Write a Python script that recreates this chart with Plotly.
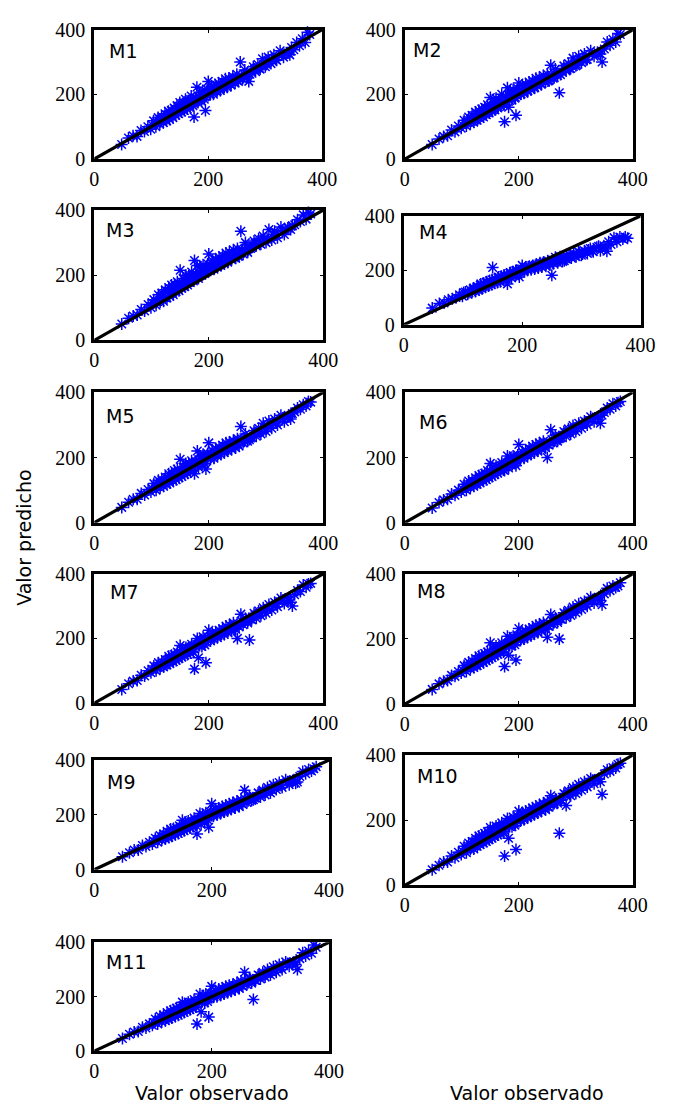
import plotly.graph_objects as go

# Observed values (shared by every model)
observed = [
    48, 60, 68, 75, 82, 88, 94, 99, 104, 108,
    112, 115, 118, 121, 124, 127, 130, 132, 135, 138,
    140, 143, 145, 148, 150, 153, 155, 158, 160, 163,
    165, 168, 170, 173, 175, 177, 180, 182, 185, 188,
    190, 193, 195, 198, 200, 203, 206, 209, 212, 215,
    218, 221, 224, 227, 230, 233, 236, 240, 243, 247,
    250, 253, 256, 260, 264, 268, 271, 275, 279, 283,
    287, 291, 295, 300, 305, 310, 315, 320, 326, 332,
    338, 343, 346, 350, 355, 360, 365, 370, 374, 378,
    101, 110, 117, 123, 129, 134, 139, 144, 149, 154,
    159, 164, 169, 174, 179, 184, 189, 194, 199, 204,
    210, 216, 222, 228, 234, 239, 245, 251, 258, 262,
    266, 273, 281, 289, 297, 302, 312, 318, 329, 340,
]

# Predicted values per model
pred_m1 = [
    45, 65, 72, 70, 88, 85, 100, 92, 118, 100,
    128, 108, 130, 112, 140, 118, 148, 122, 150, 128,
    158, 135, 165, 140, 175, 145, 172, 150, 185, 155,
    180, 162, 195, 165, 130, 190, 222, 175, 205, 180,
    212, 185, 150, 215, 240, 198, 225, 200, 230, 208,
    235, 212, 240, 218, 248, 222, 250, 228, 255, 235,
    262, 240, 300, 248, 275, 255, 240, 268, 285, 270,
    292, 278, 310, 285, 315, 295, 322, 305, 335, 315,
    328, 322, 345, 338, 360, 350, 372, 360, 392, 385,
    106, 112, 124, 122, 136, 134, 146, 145, 158, 154,
    168, 163, 178, 172, 188, 182, 196, 192, 206, 202,
    214, 212, 226, 222, 236, 232, 246, 242, 258, 252,
    264, 262, 278, 280, 292, 292, 306, 308, 322, 328,
]
pred_m2 = [
    45, 62, 70, 72, 90, 84, 102, 95, 120, 102,
    130, 110, 135, 114, 145, 120, 150, 125, 155, 130,
    160, 137, 168, 142, 190, 148, 175, 152, 188, 158,
    182, 165, 200, 168, 115, 192, 220, 160, 210, 182,
    215, 188, 135, 218, 235, 200, 228, 203, 232, 210,
    238, 214, 242, 220, 250, 225, 252, 232, 258, 238,
    262, 242, 290, 250, 278, 258, 205, 270, 288, 272,
    295, 280, 312, 288, 318, 298, 325, 308, 335, 318,
    330, 325, 300, 340, 362, 352, 370, 362, 388, 385,
    106, 113, 125, 121, 138, 133, 148, 144, 160, 153,
    170, 162, 180, 171, 190, 181, 198, 191, 208, 201,
    216, 211, 228, 221, 238, 231, 248, 241, 260, 251,
    266, 261, 280, 279, 294, 291, 308, 307, 324, 327,
]
pred_m3 = [
    50, 68, 75, 78, 95, 90, 110, 100, 125, 108,
    140, 118, 145, 120, 155, 130, 162, 135, 170, 140,
    172, 150, 180, 152, 215, 160, 190, 165, 200, 170,
    198, 178, 210, 182, 245, 205, 230, 190, 225, 200,
    232, 205, 215, 235, 265, 215, 245, 218, 250, 225,
    255, 230, 260, 235, 268, 240, 272, 248, 278, 252,
    282, 258, 335, 265, 300, 270, 285, 285, 305, 290,
    312, 295, 320, 300, 340, 308, 335, 315, 348, 325,
    345, 340, 352, 355, 370, 365, 385, 372, 392, 388,
    115, 120, 135, 132, 150, 145, 160, 158, 172, 168,
    182, 178, 192, 188, 202, 198, 212, 210, 222, 220,
    232, 230, 245, 240, 255, 250, 265, 258, 278, 272,
    285, 282, 298, 298, 312, 310, 325, 325, 338, 345,
]
pred_m4 = [
    61, 78, 80, 92, 95, 100, 110, 105, 120, 112,
    128, 118, 135, 122, 140, 128, 150, 132, 152, 140,
    158, 142, 162, 148, 210, 152, 168, 155, 175, 158,
    178, 165, 182, 168, 150, 180, 192, 172, 195, 182,
    200, 185, 175, 198, 218, 195, 212, 200, 215, 202,
    218, 205, 222, 208, 228, 212, 230, 215, 235, 220,
    182, 225, 248, 228, 250, 232, 235, 242, 258, 245,
    262, 250, 268, 255, 272, 262, 280, 268, 285, 272,
    290, 270, 305, 295, 320, 305, 322, 315, 322, 318,
    118, 118, 132, 130, 145, 140, 155, 150, 165, 160,
    172, 168, 182, 178, 190, 185, 198, 195, 205, 200,
    212, 208, 218, 215, 225, 220, 232, 228, 240, 235,
    248, 242, 255, 252, 265, 260, 275, 272, 288, 282,
]
pred_m5 = [
    47, 63, 72, 72, 90, 85, 102, 94, 120, 100,
    130, 108, 132, 112, 140, 118, 150, 122, 152, 128,
    160, 132, 165, 138, 195, 142, 170, 148, 182, 152,
    180, 158, 190, 162, 150, 188, 220, 170, 205, 178,
    210, 182, 165, 212, 245, 195, 222, 198, 228, 205,
    232, 210, 238, 215, 245, 220, 248, 225, 252, 230,
    258, 235, 295, 245, 272, 250, 255, 262, 282, 265,
    290, 272, 305, 280, 312, 290, 318, 300, 330, 310,
    325, 318, 335, 340, 352, 348, 362, 358, 372, 370,
    105, 111, 123, 121, 135, 133, 145, 143, 157, 153,
    167, 162, 177, 171, 187, 181, 195, 191, 205, 201,
    213, 210, 225, 221, 235, 230, 245, 240, 257, 250,
    263, 260, 277, 278, 291, 290, 305, 306, 321, 326,
]
pred_m6 = [
    45, 62, 70, 72, 88, 84, 100, 94, 118, 100,
    128, 108, 130, 112, 138, 118, 145, 122, 148, 128,
    152, 132, 160, 138, 182, 142, 165, 148, 175, 152,
    172, 158, 185, 162, 160, 180, 205, 168, 198, 178,
    205, 182, 175, 208, 240, 195, 218, 198, 222, 205,
    228, 210, 235, 215, 240, 220, 245, 225, 250, 230,
    200, 238, 285, 245, 268, 250, 258, 262, 280, 265,
    288, 272, 298, 280, 305, 290, 312, 300, 325, 310,
    322, 305, 330, 338, 352, 348, 365, 358, 368, 372,
    104, 110, 121, 120, 133, 132, 143, 142, 155, 152,
    164, 161, 175, 170, 184, 180, 193, 190, 202, 200,
    211, 209, 223, 220, 233, 230, 243, 240, 255, 250,
    261, 260, 276, 278, 290, 290, 304, 306, 320, 326,
]
pred_m7 = [
    42, 60, 68, 70, 86, 84, 100, 94, 115, 100,
    125, 108, 128, 112, 135, 118, 145, 122, 148, 128,
    150, 132, 158, 138, 178, 142, 165, 148, 172, 150,
    170, 155, 182, 158, 105, 178, 200, 140, 195, 175,
    205, 180, 125, 205, 225, 192, 215, 198, 220, 202,
    225, 208, 230, 212, 238, 218, 242, 222, 248, 228,
    200, 235, 275, 242, 262, 248, 195, 258, 278, 262,
    285, 270, 295, 278, 305, 288, 312, 298, 325, 308,
    318, 312, 300, 335, 348, 345, 365, 358, 368, 370,
    104, 110, 121, 119, 133, 131, 142, 141, 153, 150,
    163, 160, 173, 168, 182, 178, 191, 188, 200, 198,
    209, 208, 220, 219, 230, 229, 240, 240, 252, 251,
    258, 260, 272, 278, 286, 290, 300, 306, 318, 326,
]
pred_m8 = [
    45, 62, 70, 72, 88, 85, 100, 95, 118, 100,
    128, 108, 132, 112, 140, 118, 148, 122, 150, 128,
    155, 132, 160, 138, 188, 142, 168, 148, 178, 152,
    175, 158, 188, 160, 115, 182, 208, 150, 200, 178,
    208, 182, 135, 210, 232, 195, 220, 200, 225, 205,
    230, 210, 235, 215, 242, 220, 245, 225, 250, 230,
    205, 238, 275, 245, 265, 250, 200, 260, 280, 265,
    288, 272, 298, 280, 308, 290, 315, 300, 328, 310,
    322, 318, 305, 338, 355, 348, 362, 358, 362, 372,
    105, 111, 122, 120, 134, 132, 144, 142, 156, 152,
    166, 161, 176, 170, 185, 180, 194, 190, 204, 200,
    212, 210, 224, 220, 234, 230, 244, 240, 256, 250,
    262, 260, 276, 278, 290, 290, 304, 306, 320, 328,
]
pred_m9 = [
    47, 62, 72, 72, 88, 85, 100, 94, 115, 100,
    125, 108, 130, 112, 140, 118, 148, 122, 150, 128,
    152, 132, 160, 138, 180, 142, 168, 148, 178, 152,
    175, 158, 188, 162, 130, 182, 205, 165, 200, 178,
    208, 182, 155, 210, 240, 195, 222, 200, 225, 205,
    230, 210, 235, 215, 240, 220, 245, 225, 250, 230,
    255, 238, 290, 245, 268, 252, 255, 262, 280, 265,
    290, 272, 300, 280, 310, 292, 318, 300, 328, 310,
    325, 315, 320, 340, 358, 350, 365, 360, 368, 375,
    105, 111, 122, 121, 134, 133, 144, 143, 155, 153,
    165, 162, 175, 171, 185, 181, 194, 191, 203, 201,
    212, 210, 224, 221, 234, 231, 244, 241, 256, 251,
    262, 261, 277, 279, 291, 291, 305, 307, 321, 328,
]
pred_m10 = [
    48, 62, 72, 72, 90, 85, 102, 95, 120, 100,
    130, 110, 135, 112, 145, 120, 152, 125, 155, 130,
    160, 135, 165, 140, 178, 145, 172, 150, 182, 155,
    180, 160, 192, 165, 90, 185, 205, 145, 200, 180,
    210, 185, 110, 212, 228, 198, 222, 202, 228, 208,
    232, 212, 238, 218, 242, 222, 248, 228, 252, 232,
    258, 240, 275, 248, 265, 252, 160, 262, 282, 245,
    290, 275, 300, 282, 310, 292, 318, 302, 328, 312,
    325, 318, 280, 342, 355, 350, 362, 360, 372, 375,
    106, 112, 124, 121, 137, 133, 147, 143, 159, 153,
    169, 162, 179, 171, 189, 181, 197, 191, 207, 201,
    215, 211, 227, 221, 237, 231, 247, 241, 258, 251,
    264, 261, 279, 279, 292, 291, 306, 307, 323, 328,
]
pred_m11 = [
    46, 62, 70, 72, 88, 85, 100, 95, 118, 100,
    128, 108, 132, 112, 142, 118, 148, 122, 152, 128,
    158, 132, 162, 138, 180, 142, 170, 148, 180, 152,
    178, 158, 190, 162, 100, 182, 210, 145, 202, 178,
    210, 182, 125, 212, 238, 198, 222, 200, 228, 205,
    232, 210, 238, 215, 242, 220, 245, 225, 252, 230,
    258, 238, 290, 245, 268, 250, 190, 260, 280, 265,
    290, 272, 300, 280, 310, 290, 318, 300, 328, 312,
    325, 318, 300, 340, 362, 350, 368, 360, 390, 382,
    105, 112, 123, 121, 136, 133, 146, 144, 158, 153,
    168, 162, 178, 171, 188, 181, 196, 191, 206, 201,
    214, 211, 226, 221, 236, 231, 246, 241, 258, 251,
    264, 261, 278, 279, 292, 291, 306, 307, 322, 328,
]

model_names = ["M1", "M2", "M3", "M4", "M5", "M6", "M7", "M8", "M9", "M10", "M11"]
predictions = [pred_m1, pred_m2, pred_m3, pred_m4, pred_m5, pred_m6,
               pred_m7, pred_m8, pred_m9, pred_m10, pred_m11]

# Axis scale shared by all panels and the 1:1 reference line
axis_range = [0, 400]
tick_values = [0, 200, 400]
identity_line = [0, 400]

x_title = "Valor observado"
y_title = "Valor predicho"

# ---- layout geometry (pixels) ----
W, H = 676, 1117
# (left, right, top, bottom) of each axes box
boxes = [
    (92, 327, 19, 151), (412, 647, 19, 151),
    (92, 328, 203, 336), (411, 655, 209, 320),
    (92, 328, 389, 522), (412, 647, 389, 522),
    (92, 328, 574, 706), (412, 647, 574, 707),
    (92, 334, 764, 876), (412, 647, 759, 892),
    (92, 334, 950, 1061),
]
# offset of each panel label from the box's top-left corner
label_offsets = [(13, 22), (6, 21), (10, 20), (14, 16), (10, 24), (13, 30),
                 (14, 19), (11, 18), (11, 22), (11, 21), (10, 20)]

BLUE = "#0000ff"
tick_font = dict(family="Liberation Serif", size=20, color="black")
label_font = dict(family="DejaVu Sans", size=19, color="black")
title_font = dict(family="DejaVu Sans", size=19, color="black")

fig = go.Figure()
annotations = []

for i, (name, pred) in enumerate(zip(model_names, predictions)):
    n = i + 1
    xa = "x" if n == 1 else f"x{n}"
    ya = "y" if n == 1 else f"y{n}"
    left, right, top, bottom = boxes[i]

    fig.add_trace(go.Scatter(
        x=observed, y=pred, mode="markers", xaxis=xa, yaxis=ya,
        marker=dict(symbol="asterisk-open", size=10, color=BLUE,
                    line=dict(color=BLUE, width=1.5)),
        showlegend=False, hoverinfo="x+y", cliponaxis=False,
    ))
    fig.add_trace(go.Scatter(
        x=identity_line, y=identity_line, mode="lines", xaxis=xa, yaxis=ya,
        line=dict(color="black", width=3.2),
        showlegend=False, hoverinfo="skip",
    ))

    axis_common = dict(
        range=axis_range, tickvals=tick_values, ticks="inside", ticklen=3,
        tickwidth=1, tickcolor="black", showline=True, linecolor="black",
        linewidth=3, mirror="ticks", showgrid=False, zeroline=False,
        tickfont=tick_font, fixedrange=True,
    )
    fig.layout[f"xaxis{'' if n == 1 else n}"] = dict(
        axis_common, domain=[left / W, right / W], anchor=ya,
        ticklabelstandoff=0,
    )
    fig.layout[f"yaxis{'' if n == 1 else n}"] = dict(
        axis_common, domain=[1 - bottom / H, 1 - top / H], anchor=xa,
        ticklabelstandoff=2,
    )

    dx, dy = label_offsets[i]
    annotations.append(dict(
        text=name, x=(left + dx) / W, y=1 - (top + dy) / H,
        xref="paper", yref="paper", xanchor="left", yanchor="middle",
        showarrow=False, font=label_font,
    ))

# shared axis titles
annotations.append(dict(
    text=y_title, x=20 / W, y=1 - 537 / H, xref="paper", yref="paper",
    textangle=-90, showarrow=False, font=title_font,
    xanchor="center", yanchor="middle",
))
for cx in (213, 538):
    annotations.append(dict(
        text=x_title, x=cx / W, y=1 - 1104 / H, xref="paper", yref="paper",
        showarrow=False, font=title_font, xanchor="center", yanchor="middle",
    ))

fig.update_layout(
    width=W, height=H, margin=dict(l=0, r=0, t=0, b=0),
    paper_bgcolor="white", plot_bgcolor="white",
    annotations=annotations,
)

fig.write_html("out.html", include_plotlyjs=True, config={"displayModeBar": False})
